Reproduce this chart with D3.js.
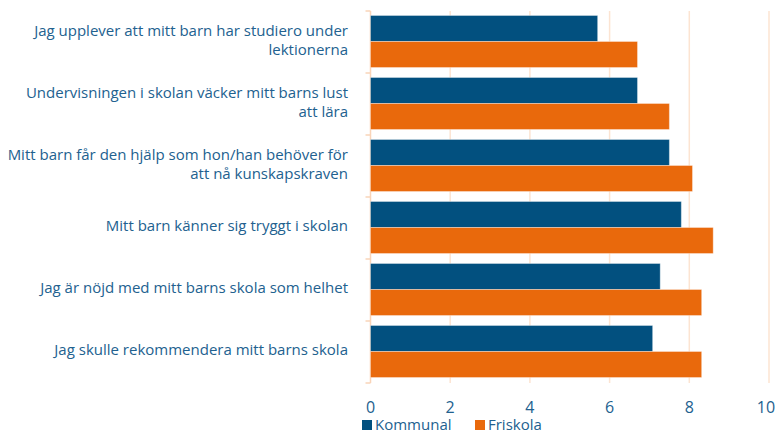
<!DOCTYPE html>
<html>
<head>
<meta charset="utf-8">
<script src="https://cdn.jsdelivr.net/npm/d3@7"></script>
<style>
    body { margin: 0; background: #fff; }
    text { font-family: "Open Sans", sans-serif; }
</style>
</head>
<body>
<script>
var categories = [
    ["Jag upplever att mitt barn har studiero under", "lektionerna"],
    ["Undervisningen i skolan väcker mitt barns lust", "att lära"],
    ["Mitt barn får den hjälp som hon/han behöver för", "att nå kunskapskraven"],
    ["Mitt barn känner sig tryggt i skolan"],
    ["Jag är nöjd med mitt barns skola som helhet"],
    ["Jag skulle rekommendera mitt barns skola"]
];
var seriesNames = ["Kommunal", "Friskola"];
var kommunal = [5.7, 6.7, 7.5, 7.8, 7.27, 7.08];
var friskola = [6.7, 7.5, 8.08, 8.6, 8.31, 8.31];
var xTicks = [0, 2, 4, 6, 8, 10];

var w = 776;
var h = 431;
var plotLeft = 370.5, plotRight = 769, plotTop = 11, plotBottom = 383;
var colors = ["#02507f", "#e9690c"];
var textColor = "#22618f";
var gridColor = "#fce4d2";

var svg = d3.select("body")
    .append("svg")
    .attr("width", w)
    .attr("height", h);

var xScale = d3.scaleLinear()
    .domain([0, 10])
    .range([plotLeft, plotRight]);

var yScale = d3.scaleBand()
    .domain(d3.range(categories.length))
    .range([plotTop, plotBottom]);

var inner = d3.scaleBand()
    .domain([0, 1])
    .range([4.5, yScale.bandwidth() - 5.5]);

// grid lines
svg.selectAll(".grid")
    .data(xTicks.slice(1))
    .enter()
    .append("line")
    .attr("x1", function (d) { return xScale(d); })
    .attr("x2", function (d) { return xScale(d); })
    .attr("y1", plotTop)
    .attr("y2", plotBottom)
    .attr("stroke", gridColor)
    .attr("stroke-width", 1.5);

// left axis line with ticks
svg.append("line")
    .attr("x1", plotLeft)
    .attr("x2", plotLeft)
    .attr("y1", plotTop)
    .attr("y2", plotBottom)
    .attr("stroke", "#f9d4b8")
    .attr("stroke-width", 1.5);

svg.selectAll(".ytick")
    .data(d3.range(categories.length + 1))
    .enter()
    .append("line")
    .attr("x1", plotLeft - 5)
    .attr("x2", plotLeft)
    .attr("y1", function (d) { return plotTop + d * yScale.step(); })
    .attr("y2", function (d) { return plotTop + d * yScale.step(); })
    .attr("stroke", "#f9d4b8")
    .attr("stroke-width", 1.5);

// bars
var allSeries = [kommunal, friskola];
allSeries.forEach(function (values, s) {
    svg.selectAll(".bar" + s)
        .data(values)
        .enter()
        .append("rect")
        .attr("x", xScale(0))
        .attr("y", function (d, i) { return yScale(i) + inner(s); })
        .attr("width", function (d) { return xScale(d) - xScale(0); })
        .attr("height", inner.bandwidth())
        .attr("fill", colors[s])
        .attr("stroke", "#ffffff")
        .attr("stroke-opacity", 0.35)
        .attr("stroke-width", 1);
});

// category labels
var labels = svg.selectAll(".label")
    .data(categories)
    .enter()
    .append("text")
    .attr("text-anchor", "end")
    .attr("fill", textColor)
    .style("font-size", "15px")
    .attr("transform", function (d, i) {
        var cy = yScale(i) + yScale.bandwidth() / 2;
        return "translate(348," + (cy - (d.length - 1) * 9.5 - 2) + ")";
    });

labels.selectAll("tspan")
    .data(function (d) { return d; })
    .enter()
    .append("tspan")
    .attr("x", 0)
    .attr("dy", function (d, i) { return i === 0 ? "0.35em" : 19; })
    .text(function (d) { return d; });

// x tick labels
svg.selectAll(".xlabel")
    .data(xTicks)
    .enter()
    .append("text")
    .attr("x", function (d) { return xScale(d); })
    .attr("dx", function (d, i) { return i === xTicks.length - 1 ? -3 : 0; })
    .attr("y", 413)
    .attr("text-anchor", "middle")
    .attr("fill", textColor)
    .style("font-size", "16px")
    .text(function (d) { return d; });

// legend
var legendX = [362, 475];
var legend = svg.selectAll(".legend")
    .data(seriesNames)
    .enter()
    .append("g")
    .attr("transform", function (d, i) { return "translate(" + legendX[i] + ",420)"; });

legend.append("rect")
    .attr("width", 10)
    .attr("height", 10)
    .attr("fill", function (d, i) { return colors[i]; });

legend.append("text")
    .attr("x", 13)
    .attr("y", 10)
    .attr("fill", textColor)
    .style("font-size", "15px")
    .text(function (d) { return d; });
</script>
</body>
</html>
